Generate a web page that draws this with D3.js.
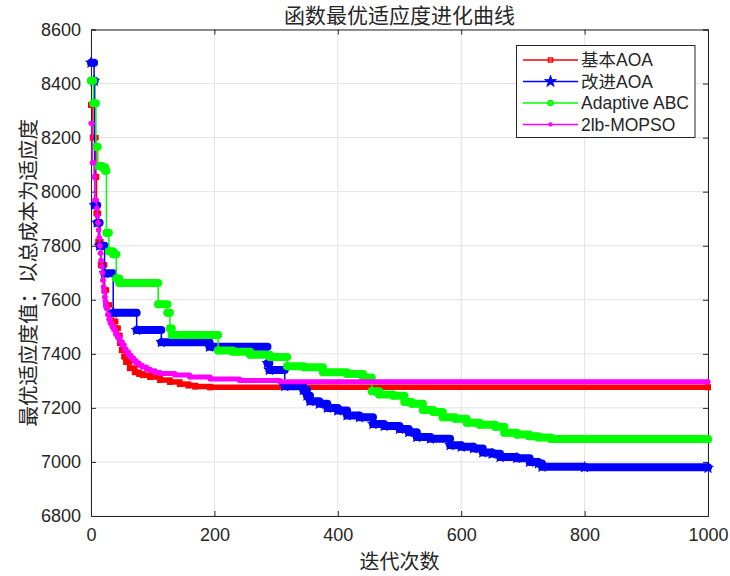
<!DOCTYPE html>
<html>
<head>
<meta charset="utf-8">
<script src="https://cdn.jsdelivr.net/npm/d3@7"></script>
<style>
  html, body { margin: 0; padding: 0; background: #fff; }
  svg { display: block; }
</style>
</head>
<body>
<svg id="chart" width="730" height="576"></svg>
<script>
// ---------------- data ----------------
const titleText = "函数最优适应度进化曲线";
const xLabelText = "迭代次数";
const yLabelText = "最优适应度值：以总成本为适应度";
const iterTicks = [0, 200, 400, 600, 800, 1000];
const fitTicks = [6800, 7000, 7200, 7400, 7600, 7800, 8000, 8200, 8400, 8600];
const seriesNames = ["基本AOA", "改进AOA", "Adaptive ABC", "2lb-MOPSO"];

// [iteration, best fitness] at each point where the curve changes (held until next point)
const basicAOA = [
  [0, 8321], [3, 8200], [8, 8055], [9, 7920], [12, 7815], [16, 7729], [22, 7636],
  [25, 7581], [30, 7550], [36, 7520], [40, 7495], [44, 7468], [47, 7440], [50, 7414],
  [54, 7390], [57, 7370], [63, 7347], [71, 7332], [78, 7326], [84, 7321], [96, 7314],
  [112, 7303], [128, 7296], [144, 7288], [158, 7283], [169, 7279], [193, 7276],
  [1000, 7276]
];
const improvedAOA = [
  [0, 8477], [5, 8410], [6, 7950], [10, 7885], [14, 7800], [22, 7698], [36, 7552],
  [74, 7488], [114, 7443], [192, 7426], [286, 7365], [289, 7340], [314, 7280],
  [344, 7266], [350, 7245], [355, 7225], [370, 7215], [383, 7200], [400, 7190],
  [415, 7172], [435, 7165], [457, 7140], [475, 7133], [500, 7122], [515, 7110],
  [528, 7092], [550, 7086], [582, 7062], [600, 7056], [620, 7050], [635, 7035],
  [650, 7030], [663, 7018], [690, 7014], [711, 7000], [725, 6994], [731, 6982],
  [800, 6980], [1000, 6978]
];
const adaptiveABC = [
  [0, 8410], [4, 8327], [8, 8166], [11, 8095], [18, 8090], [23, 8077], [25, 7848],
  [29, 7780], [36, 7768], [41, 7679], [46, 7662], [109, 7583], [124, 7552],
  [128, 7494], [131, 7470], [206, 7412], [230, 7408], [258, 7397], [290, 7388],
  [318, 7354], [345, 7350], [376, 7332], [415, 7325], [441, 7312], [455, 7262],
  [467, 7250], [490, 7245], [508, 7222], [520, 7215], [538, 7192], [555, 7185],
  [570, 7165], [590, 7160], [609, 7145], [630, 7138], [655, 7130], [670, 7108],
  [690, 7102], [710, 7095], [725, 7090], [745, 7085], [1000, 7084]
];
const mopso = [
  [0, 8253], [2, 8107], [5, 8055], [6, 7969], [9, 7938], [10, 7910], [11, 7885],
  [12, 7858], [13, 7830], [14, 7800], [15, 7772], [16, 7745], [17, 7722], [18, 7700],
  [19, 7672], [20, 7648], [21, 7630], [22, 7610], [23, 7595], [24, 7580], [25, 7568],
  [27, 7545], [29, 7528], [31, 7514], [34, 7500], [37, 7488], [40, 7472], [44, 7459],
  [47, 7446], [50, 7433], [54, 7418], [57, 7407], [61, 7395], [65, 7385], [69, 7375],
  [73, 7366], [78, 7358], [83, 7351], [90, 7343], [96, 7337], [104, 7331], [112, 7327],
  [136, 7322], [160, 7314], [193, 7307], [241, 7301], [306, 7297], [1000, 7297]
];

// ---------------- layout ----------------
const W = 730, H = 576;
const L = 91, R = 708, T = 29.5, B = 516;
const axisColor = "#262626";
const gridColor = "#e3e3e3";

const svg = d3.select("#chart");
svg.append("rect").attr("width", W).attr("height", H).attr("fill", "#fff");

const x = d3.scaleLinear().domain([0, 1000]).range([L, R]);
const y = d3.scaleLinear().domain([6800, 8600]).range([B, T]);

// grid
const grid = svg.append("g");
grid.selectAll("line.gx").data(iterTicks).join("line")
  .attr("x1", d => x(d)).attr("x2", d => x(d)).attr("y1", T).attr("y2", B)
  .attr("stroke", gridColor).attr("stroke-width", 1);
grid.selectAll("line.gy").data(fitTicks).join("line")
  .attr("y1", d => y(d)).attr("y2", d => y(d)).attr("x1", L).attr("x2", R)
  .attr("stroke", gridColor).attr("stroke-width", 1);

// axes (ticks inward, box)
const fontLatin = "Arial, 'Liberation Sans', Helvetica, sans-serif";
const xAxis = d3.axisBottom(x).tickValues(iterTicks).tickSize(-5).tickPadding(12).tickFormat(d3.format("d"));
const yAxis = d3.axisLeft(y).tickValues(fitTicks).tickSize(-5).tickPadding(10).tickFormat(d3.format("d"));
const gx = svg.append("g").attr("transform", `translate(0,${B})`).call(xAxis);
const gy = svg.append("g").attr("transform", `translate(${L},0)`).call(yAxis);
const gxTop = svg.append("g").attr("transform", `translate(0,${T})`)
  .call(d3.axisTop(x).tickValues(iterTicks).tickSize(-5).tickFormat(""));
const gyRight = svg.append("g").attr("transform", `translate(${R},0)`)
  .call(d3.axisRight(y).tickValues(fitTicks).tickSize(-5).tickFormat(""));
[gx, gy, gxTop, gyRight].forEach(g => {
  g.select(".domain").attr("stroke", axisColor).attr("stroke-width", 1);
  g.selectAll(".tick line").attr("stroke", axisColor).attr("stroke-width", 1);
  g.selectAll(".tick text").attr("fill", axisColor)
    .style("font-family", fontLatin).style("font-size", "18px");
});

// ---------------- series ----------------
const styles = [
  { data: basicAOA, color: "#ff0000", band: 5.5, cap: "square", marker: "square" },
  { data: improvedAOA, color: "#0000ff", band: 8, cap: "round", marker: "star" },
  { data: adaptiveABC, color: "#00ff00", band: 8, cap: "round", marker: "circle" },
  { data: mopso, color: "#ff00ff", band: 5, cap: "round", marker: "dot" }
];

function drawMarker(g, type, color, cx, cy, scale) {
  const s = scale || 1;
  if (type === "square") {
    g.append("rect").attr("x", cx - 2.3 * s).attr("y", cy - 2.3 * s)
      .attr("width", 4.6 * s).attr("height", 4.6 * s)
      .attr("fill", "none").attr("stroke", color).attr("stroke-width", 1.4);
  } else if (type === "star") {
    g.append("path").attr("d", d3.symbol().type(d3.symbolStar).size(36 * s * s)())
      .attr("transform", `translate(${cx},${cy})`)
      .attr("fill", color).attr("stroke", color).attr("stroke-width", 0.8);
  } else if (type === "circle") {
    g.append("circle").attr("cx", cx).attr("cy", cy).attr("r", 3 * s)
      .attr("fill", "none").attr("stroke", color).attr("stroke-width", 2);
  } else {
    g.append("circle").attr("cx", cx).attr("cy", cy).attr("r", 2.4 * s)
      .attr("fill", color);
  }
}

const stepLine = d3.line().x(d => x(d[0])).y(d => y(d[1])).curve(d3.curveStepAfter);

styles.forEach(st => {
  const g = svg.append("g");
  // thin connecting step line
  g.append("path").attr("d", stepLine(st.data))
    .attr("fill", "none").attr("stroke", st.color).attr("stroke-width", 1.5);
  // dense per-iteration markers merge into a band along each plateau
  const segs = d3.pairs(st.data);
  g.selectAll("line.band").data(segs).join("line")
    .attr("x1", d => x(d[0][0])).attr("x2", d => x(d[1][0]))
    .attr("y1", d => y(d[0][1])).attr("y2", d => y(d[0][1]))
    .attr("stroke", st.color).attr("stroke-width", st.band)
    .attr("stroke-linecap", st.cap);
  // markers at change points
  st.data.forEach(d => drawMarker(g, st.marker, st.color, x(d[0]), y(d[1])));
});

// ---------------- legend ----------------
const lg = svg.append("g");
const lx0 = 516.5, ly0 = 45.5, lw = 178.5, lh = 92;
lg.append("rect").attr("x", lx0).attr("y", ly0).attr("width", lw).attr("height", lh)
  .attr("fill", "#fff").attr("stroke", axisColor).attr("stroke-width", 1);
const rowY = [60, 81.5, 103, 124.5];
styles.forEach((st, i) => {
  const yy = rowY[i];
  lg.append("line").attr("x1", 523).attr("x2", 578).attr("y1", yy).attr("y2", yy)
    .attr("stroke", st.color).attr("stroke-width", 1.5);
  drawMarker(lg, st.marker, st.color, 550.5, yy, st.marker === "circle" ? 0.75 : (st.marker === "star" ? 1.1 : 0.9));
  lg.append("text").attr("x", 581).attr("y", yy).attr("dy", "0.36em")
    .attr("fill", axisColor)
    .style("font-family", fontLatin + ", 'Noto Sans CJK SC'")
    .style("font-size", "17.5px")
    .text(seriesNames[i]);
});

// ---------------- titles ----------------
const fontCJK = "'Noto Sans CJK SC', 'Noto Sans', sans-serif";
svg.append("text").attr("x", (L + R) / 2).attr("y", 23).attr("text-anchor", "middle")
  .attr("fill", axisColor).style("font-family", fontCJK).style("font-size", "21px")
  .text(titleText);
svg.append("text").attr("x", (L + R) / 2).attr("y", 569).attr("text-anchor", "middle")
  .attr("fill", axisColor).style("font-family", fontCJK).style("font-size", "20px")
  .text(xLabelText);
svg.append("text").attr("transform", `translate(27,${(T + B) / 2}) rotate(-90)`)
  .attr("text-anchor", "middle").attr("dominant-baseline", "central")
  .attr("fill", axisColor).style("font-family", fontCJK).style("font-size", "20.5px")
  .text(yLabelText);
</script>
</body>
</html>
